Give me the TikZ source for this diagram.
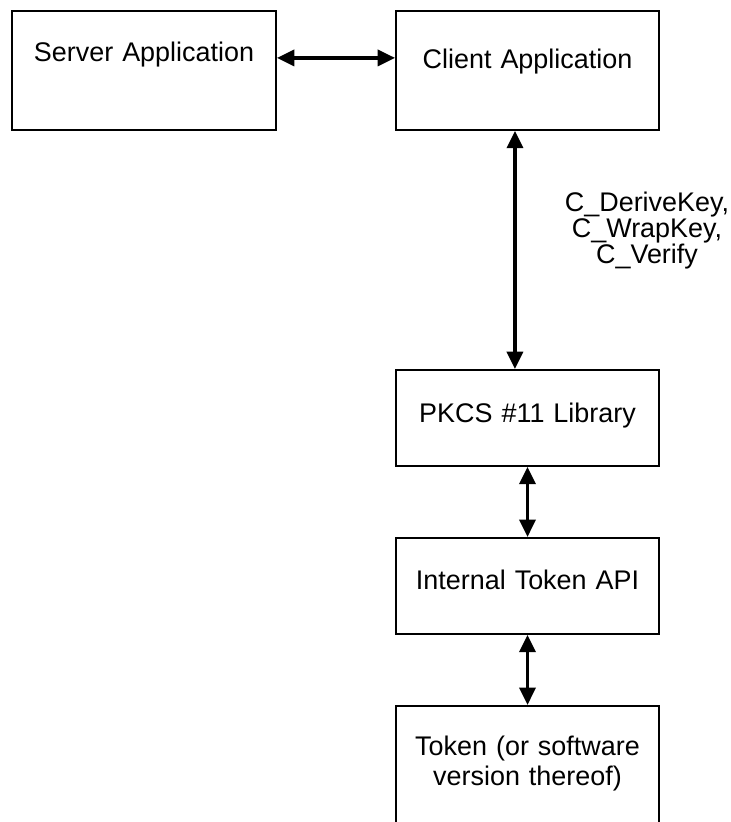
\documentclass[tikz,border=0pt]{standalone}
\usepackage{fontspec}
\setmainfont{Liberation Sans}
\usetikzlibrary{arrows.meta}

\begin{document}
\begin{tikzpicture}[x=0.75pt, y=-0.75pt,
  box/.style={draw, line width=1.4pt, text width=197.25pt, align=center, inner sep=0pt, anchor=north,
              font=\fontsize{20.2}{22.5}\selectfont},
  link/.style={{Triangle[length=13pt,width=12pt]}-{Triangle[length=13pt,width=12pt]}, line width=2.6pt}]
\useasboundingbox (0,0) rectangle (731,822);
\clip (0,0) rectangle (731,822);
\node[box, text width=198pt, text height=38.25pt, text depth=51pt] (srv) at (144,10) {Server Application};
\node[box, text height=43.5pt, text depth=45.75pt] (cli) at (527.5,10) {Client Application};
\node[box, text height=39.5pt, text depth=32.5pt] (pkcs) at (527.5,369) {PKCS \#11 Library};
\node[box, text height=39pt, text depth=33pt] (itok) at (527.5,537) {Internal Token API};
\node[box, text height=37.5pt, text depth=120pt] (tok) at (527.5,705) {Token (or software\\
                                                                   version thereof)};
\node[align=center, inner sep=0pt, font=\fontsize{20.2}{19.5}\selectfont] (fns) at (647,230.6) {C\_DeriveKey,\\
                                                                   C\_WrapKey,\\
                                                                   C\_Verify};
\draw[link] ([yshift=9.4pt]srv.east) -- ([yshift=9.4pt]cli.west);
\draw[link] ([xshift=-9.4pt]cli.south) -- ([xshift=-9.4pt]pkcs.north);
\draw[link] (pkcs.south) -- (itok.north);
\draw[link] (itok.south) -- (tok.north);
\end{tikzpicture}
\end{document}
